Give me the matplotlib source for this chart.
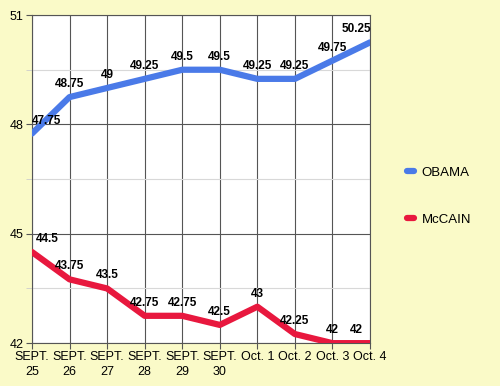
import matplotlib.pyplot as plt
from matplotlib.ticker import MultipleLocator

dates = ['SEPT.\n25', 'SEPT.\n26', 'SEPT.\n27', 'SEPT.\n28', 'SEPT.\n29',
         'SEPT.\n30', 'Oct. 1', 'Oct. 2', 'Oct. 3', 'Oct. 4']
obama = [47.75, 48.75, 49, 49.25, 49.5, 49.5, 49.25, 49.25, 49.75, 50.25]
mccain = [44.5, 43.75, 43.5, 42.75, 42.75, 42.5, 43, 42.25, 42, 42]

plt.rcParams['font.family'] = ['Liberation Sans', 'DejaVu Sans']
bg = '#fafac8'
blue = '#4a7ae8'
red = '#e8183e'

fig = plt.figure(figsize=(5, 3.86), dpi=100, facecolor=bg)
ax = fig.add_axes([0.064, 0.111, 0.676, 0.85])
x = list(range(len(dates)))

ax.plot(x, obama, color=blue, lw=4.5, solid_capstyle='round', solid_joinstyle='round', label='OBAMA', zorder=3)
ax.plot(x, mccain, color=red, lw=4.5, solid_capstyle='round', solid_joinstyle='round', label='McCAIN', zorder=3)

ax.set_xlim(0, len(dates) - 1)
ax.set_ylim(42, 51)
ax.set_xticks(x)
ax.set_xticklabels(dates, fontsize=9, linespacing=1.25)
ax.yaxis.set_major_locator(MultipleLocator(3))
ax.yaxis.set_minor_locator(MultipleLocator(1.5))
ax.tick_params(axis='y', labelsize=9, length=4, color='#555555', pad=2)
ax.tick_params(axis='y', which='minor', length=4, color='#cccccc')
ax.tick_params(axis='x', length=4, color='#555555', pad=2)
ax.grid(True, which='major', color='#555555', lw=0.8)
ax.grid(True, which='minor', axis='y', color='#d8d8d8', lw=0.8)
for s in ax.spines.values():
    s.set_color('#555555')
    s.set_linewidth(0.8)

for series in (obama, mccain):
    for i, v in enumerate(series):
        dx = 0
        if i == 0:
            dx = 0.4
        elif i == len(series) - 1:
            dx = -0.35
        ax.annotate(str(v), (i, v), xytext=(dx * 37.5, 7), textcoords='offset pixels',
                    ha='center', va='bottom', fontsize=8.5, fontweight='bold', zorder=4)

ax.legend(loc='center left', bbox_to_anchor=(1.075, 0.448), frameon=False, fontsize=9.5,
          labelspacing=2.6, handlelength=0.5, handletextpad=0.6)

fig.savefig('out.png', dpi=100, facecolor=bg)
